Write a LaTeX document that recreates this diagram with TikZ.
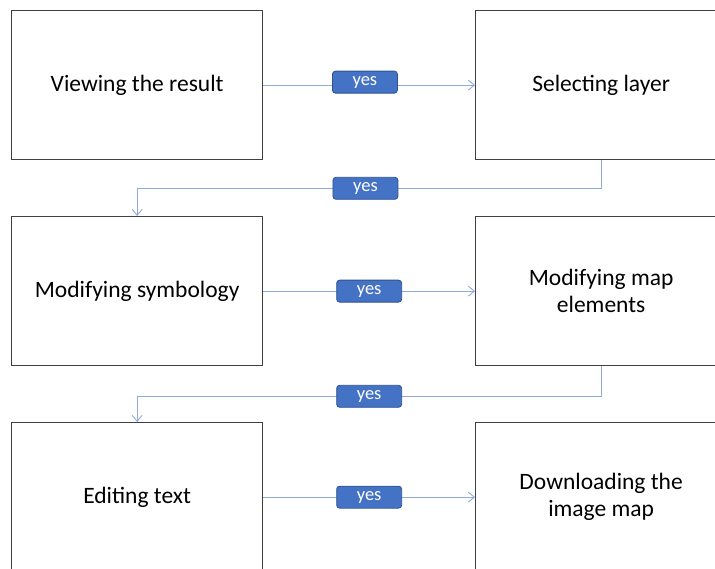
\documentclass[tikz,border=0pt]{standalone}
\usepackage{fontspec}
\setmainfont{Carlito}
\usetikzlibrary{arrows.meta}
\definecolor{boxline}{HTML}{404040}
\definecolor{connc}{HTML}{8FAADC}
\definecolor{yesfill}{HTML}{4472C4}
\definecolor{yesline}{HTML}{2F528F}
\begin{document}
\begin{tikzpicture}[x=1pt,y=-1pt,
  stepbox/.style={draw=boxline,line width=1.3pt,fill=white,minimum width=251pt,minimum height=149pt,
    anchor=north west,align=center,font=\fontsize{23.5}{27}\selectfont,inner sep=0pt},
  conn/.style={draw=connc,line width=0.9pt,-{Straight Barb[length=6pt,width=10pt]}},
  yeslab/.style={fill=yesfill,draw=yesline,line width=0.8pt,rounded corners=3pt,text=white,
    minimum width=65pt,minimum height=22pt,inner sep=0pt,font=\fontsize{18.5}{22}\selectfont}]
\useasboundingbox (0,0) rectangle (715,569);
\clip (0,0) rectangle (715,569);
\node[stepbox] (a) at (11,10) {Viewing the result};
\node[stepbox] (b) at (475,10) {Selecting layer};
\node[stepbox] (c) at (11,216) {Modifying symbology};
\node[stepbox] (d) at (475,216) {Modifying map\\elements};
\node[stepbox] (e) at (11,422) {Editing text};
\node[stepbox] (f) at (475,422) {Downloading the\\image map};
\draw[conn] (a) -- node[yeslab,pos=0.48,yshift=3pt]{yes} (b);
\draw[conn] (b.south) -- ++(0,28) coordinate (t1) -| node[yeslab,pos=0.254]{yes} (c.north);
\draw[conn] (c) -- node[yeslab]{yes} (d);
\draw[conn] (d.south) -- ++(0,30) coordinate (t2) -| node[yeslab,pos=0.25]{yes} (e.north);
\draw[conn] (e) -- node[yeslab]{yes} (f);
\end{tikzpicture}
\end{document}
